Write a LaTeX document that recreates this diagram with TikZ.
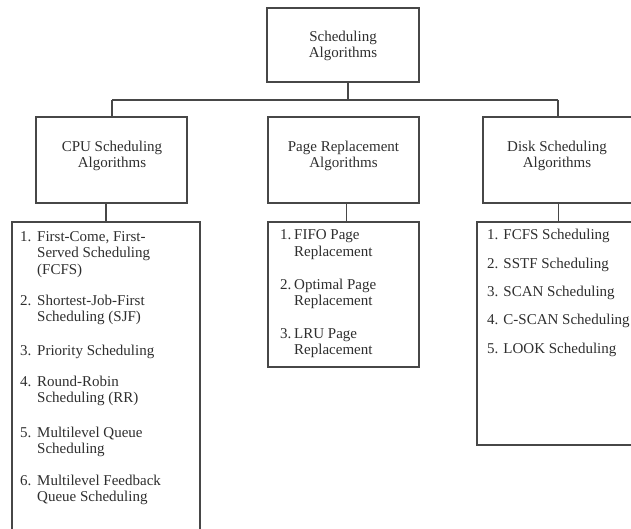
\documentclass[tikz,border=0pt]{standalone}
\usepackage{fontspec}
\setmainfont{Liberation Serif}
\newcommand{\cpuitem}[2]{\makebox[17pt][l]{#1}#2}
\newcommand{\cpuind}{\hspace*{17pt}}
\newcommand{\pgitem}[2]{\makebox[14pt][l]{#1}#2}
\newcommand{\pgind}{\hspace*{14pt}}
\begin{document}
\begin{tikzpicture}[x=1pt,y=-1pt,
  box/.style={draw=black!72, line width=1.1pt, inner sep=0pt, outer sep=0pt, anchor=north west},
  title/.style={anchor=base, inner sep=0pt, text=black!82, font=\fontsize{15}{16}\selectfont},
  entry/.style={anchor=base west, inner sep=0pt, text=black!82, font=\fontsize{15}{16.5}\selectfont},
  link/.style={draw=black!72, line width=1.1pt}]
\useasboundingbox (0,0) rectangle (631,529);
\clip (0,0) rectangle (631,529);

% boxes
\node[box, minimum width=152pt, minimum height=74pt] (top) at (267,8) {};
\node[box, minimum width=151pt, minimum height=86pt] (cpu) at (36,117) {};
\node[box, minimum width=151pt, minimum height=86pt] (page) at (268,117) {};
\node[box, minimum width=151pt, minimum height=86pt] (disk) at (483,117) {};
\node[box, minimum width=188pt, minimum height=330pt] (cpulist) at (12,222) {};
\node[box, minimum width=151pt, minimum height=145pt] (pagelist) at (268,222) {};
\node[box, minimum width=163pt, minimum height=223pt] (disklist) at (477,222) {};

% titles
\node[title] (topt) at (343,42) {\begin{tabular}[t]{@{}c@{}}Scheduling\\Algorithms\end{tabular}};
\node[title] (cput) at (112,151.5) {\begin{tabular}[t]{@{}c@{}}CPU Scheduling\\Algorithms\end{tabular}};
\node[title] (paget) at (343.5,151.5) {\begin{tabular}[t]{@{}c@{}}Page Replacement\\Algorithms\end{tabular}};
\node[title] (diskt) at (557,152) {\begin{tabular}[t]{@{}c@{}}Disk Scheduling\\Algorithms\end{tabular}};

% connectors
\coordinate (busL) at (112,100);
\coordinate (busM) at (348,100);
\coordinate (busR) at (558,100);
\draw[link] (busM |- top.south) -- (busM);
\draw[link] (busL) -- (busR);
\draw[link] (busL) -- (busL |- cpu.north);
\draw[link] (busR) -- (busR |- disk.north);
\draw[link] (cpulist.north |- cpu.south) -- (cpulist.north);
\draw[link] ([xshift=3pt]page.south) -- ([xshift=3pt]pagelist.north);
\draw[link] (disk.south) -- (disk.south |- disklist.north);

% CPU list
\node[entry] (c1) at (20,241) {\begin{tabular}[t]{@{}l@{}}\cpuitem{1.}{First-Come, First-}\\\cpuind Served Scheduling\\\cpuind (FCFS)\end{tabular}};
\node[entry] (c2) at (20,305) {\begin{tabular}[t]{@{}l@{}}\cpuitem{2.}{Shortest-Job-First}\\\cpuind Scheduling (SJF)\end{tabular}};
\node[entry] (c3) at (20,355) {\cpuitem{3.}{Priority Scheduling}};
\node[entry] (c4) at (20,386) {\begin{tabular}[t]{@{}l@{}}\cpuitem{4.}{Round-Robin}\\\cpuind Scheduling (RR)\end{tabular}};
\node[entry] (c5) at (20,437) {\begin{tabular}[t]{@{}l@{}}\cpuitem{5.}{Multilevel Queue}\\\cpuind Scheduling\end{tabular}};
\node[entry] (c6) at (20,485) {\begin{tabular}[t]{@{}l@{}}\cpuitem{6.}{Multilevel Feedback}\\\cpuind Queue Scheduling\end{tabular}};

% Page list
\node[entry] (p1) at (280,240) {\begin{tabular}[t]{@{}l@{}}\pgitem{1.}{FIFO Page}\\\pgind Replacement\end{tabular}};
\node[entry] (p2) at (280,289) {\begin{tabular}[t]{@{}l@{}}\pgitem{2.}{Optimal Page}\\\pgind Replacement\end{tabular}};
\node[entry] (p3) at (280,338) {\begin{tabular}[t]{@{}l@{}}\pgitem{3.}{LRU Page}\\\pgind Replacement\end{tabular}};

% Disk list
\node[entry] (d1) at (487,240) {1. FCFS Scheduling};
\node[entry] (d2) at (487,268) {2. SSTF Scheduling};
\node[entry] (d3) at (487,296) {3. SCAN Scheduling};
\node[entry] (d4) at (487,324) {4. C-SCAN Scheduling};
\node[entry] (d5) at (487,353) {5. LOOK Scheduling};
\end{tikzpicture}
\end{document}
